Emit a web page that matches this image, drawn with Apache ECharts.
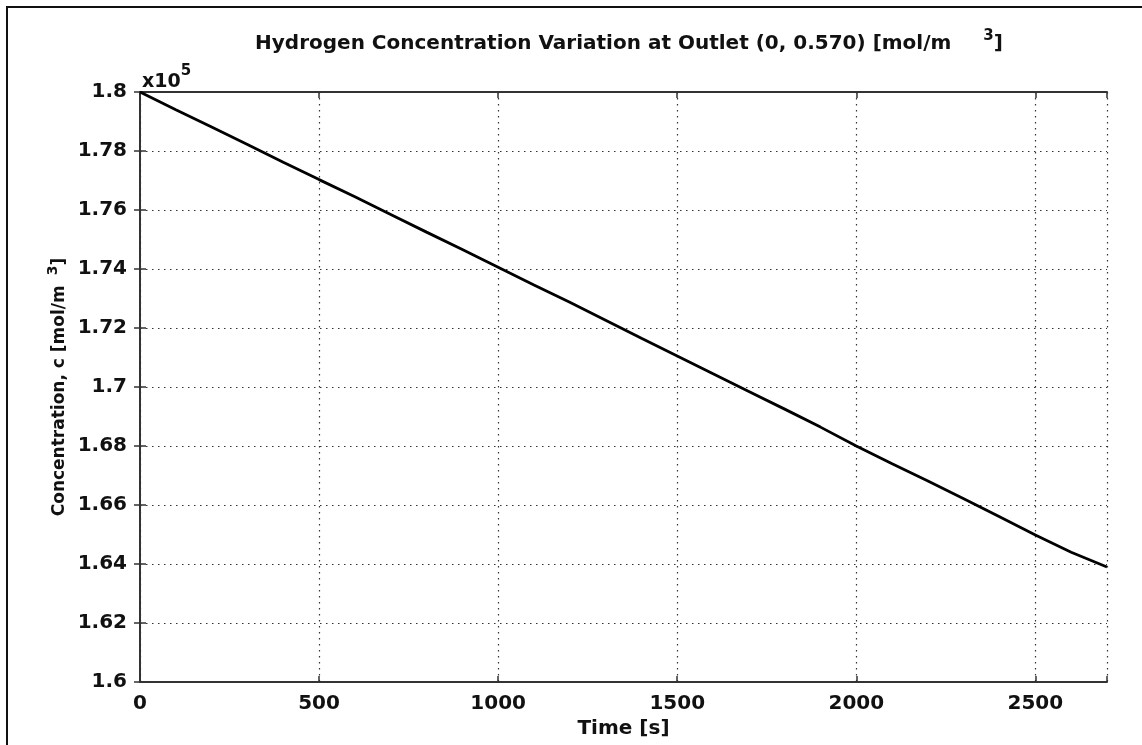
<!DOCTYPE html>
<html>
<head>
<meta charset="utf-8">
<script src="https://cdn.jsdelivr.net/npm/echarts@6/dist/echarts.min.js"></script>
<style>
  html, body { margin: 0; padding: 0; background: #fff; }
  #chart { width: 1142px; height: 745px; }
</style>
</head>
<body>
<div id="chart"></div>
<script>
// time [s]
const times = [0, 100, 200, 300, 400, 500, 600, 700, 800, 900, 1000, 1100, 1200, 1300,
  1400, 1500, 1600, 1700, 1800, 1900, 2000, 2100, 2200, 2300, 2400, 2500, 2600, 2700]
// hydrogen concentration, x10^5 mol/m3
const concentration = [1.8000, 1.7940, 1.7881, 1.7822, 1.7762, 1.7703, 1.7645, 1.7585,
  1.7525, 1.7466, 1.7406, 1.7346, 1.7287, 1.7226, 1.7165, 1.7105, 1.7045, 1.6985,
  1.6925, 1.6864, 1.6800, 1.6740, 1.6681, 1.6621, 1.6560, 1.6498, 1.6440, 1.6390]
const xTicks = [0, 500, 1000, 1500, 2000, 2500]
const yTicks = ['1.6', '1.62', '1.64', '1.66', '1.68', '1.7', '1.72', '1.74', '1.76', '1.78', '1.8']

const FONT = 'DejaVu Sans'
const frame = { lineStyle: { color: '#333', width: 2 } }
const gridDots = { show: true, lineStyle: { color: '#333', width: 1.2, type: [1.5, 4.5] } }
const innerTick = { show: true, inside: true, length: 6, lineStyle: { color: '#333', width: 1.5 } }

function yLabel(v) {
  const s = yTicks.find(t => Math.abs(Number(t) - v) < 1e-6)
  return s || ''
}

const chart = echarts.init(document.getElementById('chart'))
chart.setOption({
  animation: false,
  backgroundColor: '#fff',
  title: {
    text: 'Hydrogen Concentration Variation at Outlet (0, 0.570) [mol/m{gap|}{s|3}]',
    left: 624,
    top: 24,
    textAlign: 'center',
    textStyle: {
      fontFamily: FONT, fontSize: 20, fontWeight: 'bold', color: '#111', lineHeight: 30,
      rich: {
        gap: { width: 32 },
        s: { fontFamily: FONT, fontSize: 15, fontWeight: 'bold', color: '#111', verticalAlign: 'top', lineHeight: 16 }
      }
    }
  },
  graphic: [
    {
      type: 'rect', left: 6, top: 6, z: -1,
      shape: { width: 1160, height: 760 },
      style: { fill: 'transparent', stroke: '#111', lineWidth: 2 }
    },
    {
      type: 'text', left: 142, top: 64,
      style: {
        text: '{a|x10}{b|5}',
        rich: {
          a: { fontFamily: FONT, fontSize: 19, fontWeight: 'bold', fill: '#111', lineHeight: 28, verticalAlign: 'bottom' },
          b: { fontFamily: FONT, fontSize: 15, fontWeight: 'bold', fill: '#111', lineHeight: 16, verticalAlign: 'top' }
        }
      }
    }
  ],
  grid: { left: 140, right: 35, top: 92, bottom: 63, containLabel: false },
  xAxis: [
    {
      type: 'value', min: 0, max: 2700, interval: 500,
      name: 'Time [s]', nameLocation: 'middle', nameGap: 37,
      nameTextStyle: { fontFamily: FONT, fontSize: 20, fontWeight: 'bold', color: '#111' },
      axisLine: frame, axisTick: innerTick, splitLine: gridDots,
      axisLabel: {
        fontFamily: FONT, fontSize: 20, fontWeight: 'bold', color: '#111', margin: 12,
        formatter: v => (xTicks.includes(v) ? String(v) : '')
      }
    },
    {
      type: 'value', position: 'top', min: 0, max: 2700, interval: 500,
      axisLine: frame, axisTick: innerTick, splitLine: { show: false }, axisLabel: { show: false }
    }
  ],
  yAxis: [
    {
      type: 'value', min: 1.6, max: 1.8, interval: 0.02,
      name: 'Concentration, c [mol/m{gap|}{s|3}]', nameLocation: 'middle', nameRotate: 90,
      nameGap: 66, nameMoveOverlap: false,
      nameTextStyle: {
        fontFamily: FONT, fontSize: 17, fontWeight: 'bold', color: '#111', lineHeight: 28,
        rich: {
          gap: { width: 10 },
          s: { fontFamily: FONT, fontSize: 14, fontWeight: 'bold', color: '#111', verticalAlign: 'top', lineHeight: 15 }
        }
      },
      axisLine: frame, axisTick: innerTick, splitLine: gridDots,
      axisLabel: {
        fontFamily: FONT, fontSize: 20, fontWeight: 'bold', color: '#111', margin: 13,
        formatter: yLabel
      }
    },
    {
      type: 'value', position: 'right', min: 1.6, max: 1.8, interval: 0.02,
      axisLine: frame, axisTick: innerTick, splitLine: { show: false }, axisLabel: { show: false }
    }
  ],
  series: [
    {
      type: 'line',
      xAxisIndex: 0,
      yAxisIndex: 0,
      data: times.map((t, i) => [t, concentration[i]]),
      showSymbol: false,
      lineStyle: { color: '#000', width: 2.8 },
      z: 5
    }
  ]
})
</script>
</body>
</html>
